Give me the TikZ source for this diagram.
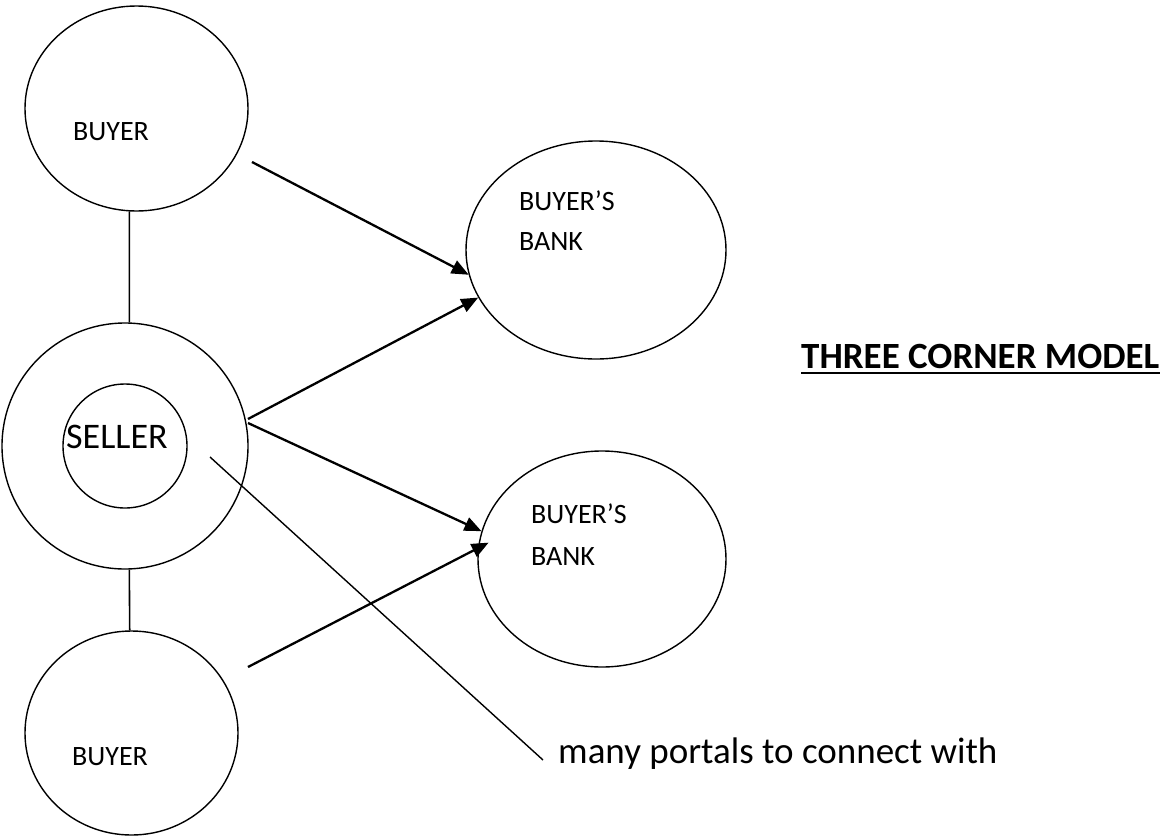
\documentclass[tikz,border=0pt]{standalone}
\usepackage{fontspec}
\setmainfont{Carlito}
\usetikzlibrary{arrows.meta,shapes.geometric}
\tikzset{
  oval/.style={draw, ellipse, line width=1.4pt, inner sep=0pt},
  lbl/.style={inner sep=0pt, anchor=base west, font=\fontsize{28}{34}\selectfont},
  biglbl/.style={inner sep=0pt, anchor=base west, font=\fontsize{37}{42}\selectfont},
  arr/.style={line width=2.3pt, -{Triangle[length=17pt,width=14pt]}},
  link/.style={line width=1.6pt},
  thin/.style={line width=1.4pt}
}
\begin{document}
\begin{tikzpicture}[x=1pt,y=-1pt]
\useasboundingbox (0,0) rectangle (1165,836);
% nodes
\node[oval, minimum width=223pt, minimum height=205pt] (buyer1) at (136.5,108.5) {};
\node[oval, minimum width=246pt, minimum height=246pt] (seller) at (125,446) {};
\node[oval, minimum width=124pt, minimum height=124pt] (sellerin) at (125,446) {};
\node[oval, minimum width=213pt, minimum height=204pt] (buyer2) at (131.5,733) {};
\node[oval, minimum width=260pt, minimum height=218pt] (bank1) at (596,250) {};
\node[oval, minimum width=248pt, minimum height=216pt] (bank2) at (602,559) {};
% texts
\node[lbl] (tb1) at (73,140) {BUYER};
\node[lbl] (tb2) at (72,765) {BUYER};
\node[biglbl, font=\fontsize{36}{42}\selectfont] (ts) at (66,448) {SELLER};
\node[lbl] (tk1a) at (519,210) {BUYER’S};
\node[lbl] (tk1b) at (519,250) {BANK};
\node[lbl] (tk2a) at (531,523) {BUYER’S};
\node[lbl] (tk2b) at (531,565) {BANK};
\node[biglbl, font=\fontsize{37}{42}\selectfont\bfseries] (title) at (801,368) {THREE CORNER MODEL};
\node[biglbl] (portals) at (558,763) {many portals to connect with};
% free ends
\coordinate (a1s) at (252,162);
\coordinate (a2s) at (248,419);
\coordinate (a3s) at (248,423);
\coordinate (a4s) at (248,667);
\coordinate (ds) at (210,457);
\coordinate (de) at (543,760);
% connectors
\draw[link] (buyer1.-94) -- (seller.88);
\draw[link] (seller.-88) -- (buyer2.91);
\draw[arr] (a1s) -- (bank1.191);
\draw[arr] (a2s) -- (bank1.202);
\draw[arr] (a3s) -- (bank2.167);
\draw[arr, shorten >=-12pt] (a4s) -- (bank2.175);
\draw[thin] (ds) -- (de);
\draw[line width=2.5pt] ([yshift=-5pt]title.base west) -- ([yshift=-5pt]title.base east);
\end{tikzpicture}
\end{document}
